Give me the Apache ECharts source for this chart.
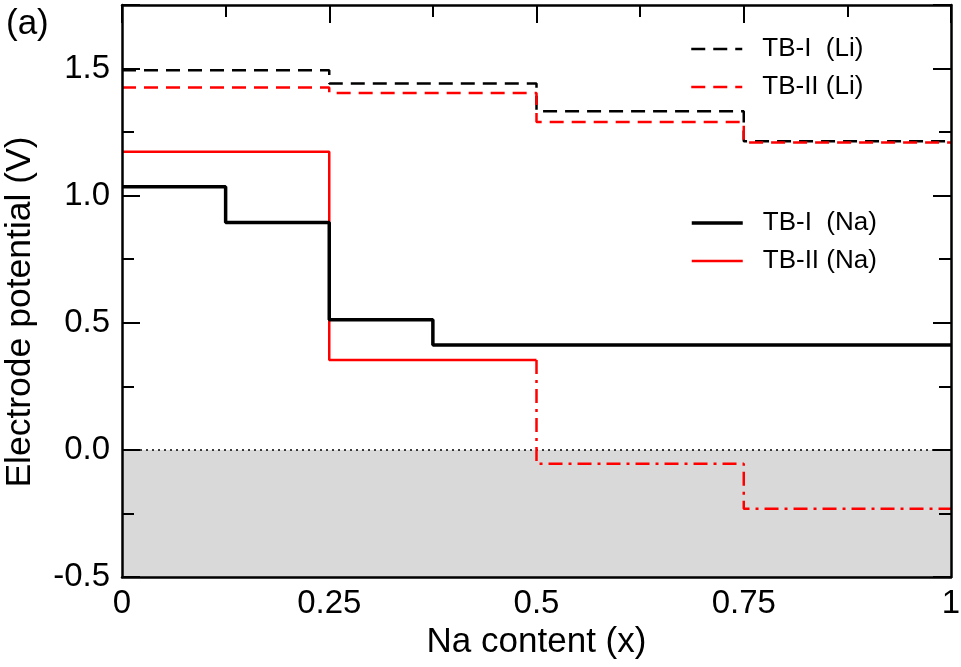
<!DOCTYPE html>
<html>
<head>
<meta charset="utf-8">
<script src="https://cdn.jsdelivr.net/npm/echarts@6/dist/echarts.min.js"></script>
<style>
  html, body { margin: 0; padding: 0; background: #fff; }
  #chart01 { width: 961px; height: 667px; }
</style>
</head>
<body>
<div id="chart01"></div>
<script>
// step edges (Na content) and the level of each step
var liEdges = [0, 0.25, 0.5, 0.75, 1];
var tb1Li = [1.493, 1.441, 1.332, 1.214];
var tb2Li = [1.425, 1.404, 1.290, 1.209];

var tb1NaEdges = [0, 0.125, 0.25, 0.375, 1];
var tb1Na = [1.035, 0.894, 0.512, 0.413];

var tb2NaEdges = [0, 0.25, 0.5];
var tb2Na = [1.173, 0.354];
// part of TB-II (Na) below 0.5 drawn dash-dot
var tb2NaDashEdges = [0.5, 0.75, 1];
var tb2NaDash = [-0.055, -0.232];

var xTicks = ['0', '0.25', '0.5', '0.75', '1'];
var yTicks = ['-0.5', '0.0', '0.5', '1.0', '1.5'];
var shadeBand = [-0.5, 0];

var font = 'Liberation Sans, Arial, Helvetica, sans-serif';

// turn edges + levels into points for a step:'end' line
function stepPoints(edges, levels) {
    var pts = [];
    for (var i = 0; i < levels.length; i++) {
        pts.push([edges[i], levels[i]]);
    }
    pts.push([edges[edges.length - 1], levels[levels.length - 1]]);
    return pts;
}
// dash-dot part starts with a drop at 0.5, so step:'start'
function dropPoints(edges, levels, startLevel) {
    var pts = [[edges[0], startLevel]];
    for (var i = 0; i < levels.length; i++) {
        pts.push([edges[i + 1], levels[i]]);
    }
    return pts;
}

var myChart01 = echarts.init(document.getElementById('chart01'));

var yBase = {
    type: 'value', min: -0.5, max: 1.75, z: 5,
    splitLine: { show: false },
    minorTick: { show: false }
};

var legendBase = {
    orient: 'vertical', left: 685,
    itemWidth: 51, itemHeight: 14, itemGap: 8,
    itemStyle: { opacity: 0 },
    textStyle: { fontSize: 26, color: '#000', lineHeight: 30, padding: [0, 0, 0, 15] },
    selectedMode: false
};

var option = {
    animation: false,
    textStyle: { fontFamily: font },
    grid: { left: 122, right: 10, top: 5, bottom: 90, outerBoundsMode: 'none', containLabel: false },
    graphic: [
        {
            type: 'text', left: 6, top: 7,
            style: { text: '(a)', font: '35px ' + font, fill: '#000' }
        },
        {
            type: 'text', x: 20, y: 312, rotation: Math.PI / 2,
            style: {
                text: 'Electrode potential (V)', font: '35.5px ' + font, fill: '#000',
                align: 'center', verticalAlign: 'middle'
            }
        }
    ],
    legend: [
        Object.assign({}, legendBase, {
            top: 29,
            data: [
                { name: 'TB-I  (Li)', lineStyle: { width: 2.5 } },
                { name: 'TB-II (Li)', lineStyle: { width: 2.5 } }
            ]
        }),
        Object.assign({}, legendBase, {
            top: 203,
            data: [
                { name: 'TB-I  (Na)', lineStyle: { width: 3.5 } },
                { name: 'TB-II (Na)', lineStyle: { width: 2.5 } }
            ]
        })
    ],
    xAxis: [
        {
            type: 'value', min: 0, max: 1, interval: 0.25, z: 5,
            name: 'Na content (x)', nameLocation: 'middle', nameGap: 43,
            nameTextStyle: { fontSize: 35, color: '#000' },
            axisLine: { onZero: false, lineStyle: { color: '#000', width: 2.5 } },
            axisTick: { show: false },
            axisLabel: {
                fontSize: 33, color: '#000', margin: 10,
                formatter: function (v) {
                    var i = Math.round(v / 0.25);
                    return Math.abs(v - i * 0.25) < 1e-9 ? xTicks[i] : '';
                }
            },
            splitLine: { show: false }
        },
        {
            type: 'value', min: 0, max: 1, interval: 0.25, position: 'top', z: 5,
            axisLine: { onZero: false, lineStyle: { color: '#000', width: 2.5 } },
            axisTick: { inside: true, length: 18, lineStyle: { color: '#000', width: 2 } },
            minorTick: { show: true, splitNumber: 2, length: 12, lineStyle: { color: '#000', width: 2 } },
            axisLabel: { show: false },
            splitLine: { show: false }
        }
    ],
    yAxis: [
        Object.assign({}, yBase, {
            interval: 0.5, position: 'left',
            axisLine: { show: true, onZero: false, lineStyle: { color: '#000', width: 2.5 } },
            axisTick: { inside: true, length: 18, lineStyle: { color: '#000', width: 2 } },
            axisLabel: {
                fontSize: 33, color: '#000', margin: 12,
                formatter: function (v) {
                    var i = Math.round((v + 0.5) / 0.5);
                    return Math.abs(v - (i * 0.5 - 0.5)) < 1e-9 && i < yTicks.length ? yTicks[i] : '';
                }
            }
        }),
        Object.assign({}, yBase, {
            interval: 0.5, position: 'right',
            axisLine: { show: true, onZero: false, lineStyle: { color: '#000', width: 2.5 } },
            axisTick: { inside: true, length: 18, lineStyle: { color: '#000', width: 2 } },
            axisLabel: { show: false }
        }),
        Object.assign({}, yBase, {
            interval: 0.25, position: 'left',
            axisLine: { show: false, onZero: false },
            axisTick: { inside: true, length: 12, lineStyle: { color: '#000', width: 2 } },
            axisLabel: { show: false }
        }),
        Object.assign({}, yBase, {
            interval: 0.25, position: 'right',
            axisLine: { show: false, onZero: false },
            axisTick: { inside: true, length: 12, lineStyle: { color: '#000', width: 2 } },
            axisLabel: { show: false }
        })
    ],
    series: [
        {
            name: 'zero', type: 'line', z: 1, silent: true,
            symbol: 'none',
            data: [[0, shadeBand[1]], [1, shadeBand[1]]],
            lineStyle: { color: '#000', width: 1.5, type: [2, 4] },
            markArea: {
                silent: true,
                itemStyle: { color: '#d9d9d9' },
                data: [[{ yAxis: shadeBand[0] }, { yAxis: shadeBand[1] }]]
            }
        },
        {
            name: 'TB-I  (Li)', type: 'line', step: 'end', symbol: 'none', z: 3,
            data: stepPoints(liEdges, tb1Li),
            lineStyle: { color: '#000', width: 2.5, type: [14, 8] },
            itemStyle: { color: '#000' }
        },
        {
            name: 'TB-II (Li)', type: 'line', step: 'end', symbol: 'none', z: 3,
            data: stepPoints(liEdges, tb2Li),
            lineStyle: { color: '#ff0000', width: 2.5, type: [14, 8] },
            itemStyle: { color: '#ff0000' }
        },
        {
            name: 'TB-I  (Na)', type: 'line', step: 'end', symbol: 'none', z: 4,
            data: stepPoints(tb1NaEdges, tb1Na),
            lineStyle: { color: '#000', width: 3.5 },
            itemStyle: { color: '#000' }
        },
        {
            name: 'TB-II (Na)', type: 'line', step: 'end', symbol: 'none', z: 3,
            data: stepPoints(tb2NaEdges, tb2Na),
            lineStyle: { color: '#ff0000', width: 2.5 },
            itemStyle: { color: '#ff0000' }
        },
        {
            name: 'TB-II (Na) low', type: 'line', step: 'start', symbol: 'none', z: 3,
            data: dropPoints(tb2NaDashEdges, tb2NaDash, tb2Na[tb2Na.length - 1]),
            lineStyle: { color: '#ff0000', width: 2.5, type: [14, 6, 3, 6] },
            itemStyle: { color: '#ff0000' }
        }
    ]
};

myChart01.setOption(option);
</script>
</body>
</html>
